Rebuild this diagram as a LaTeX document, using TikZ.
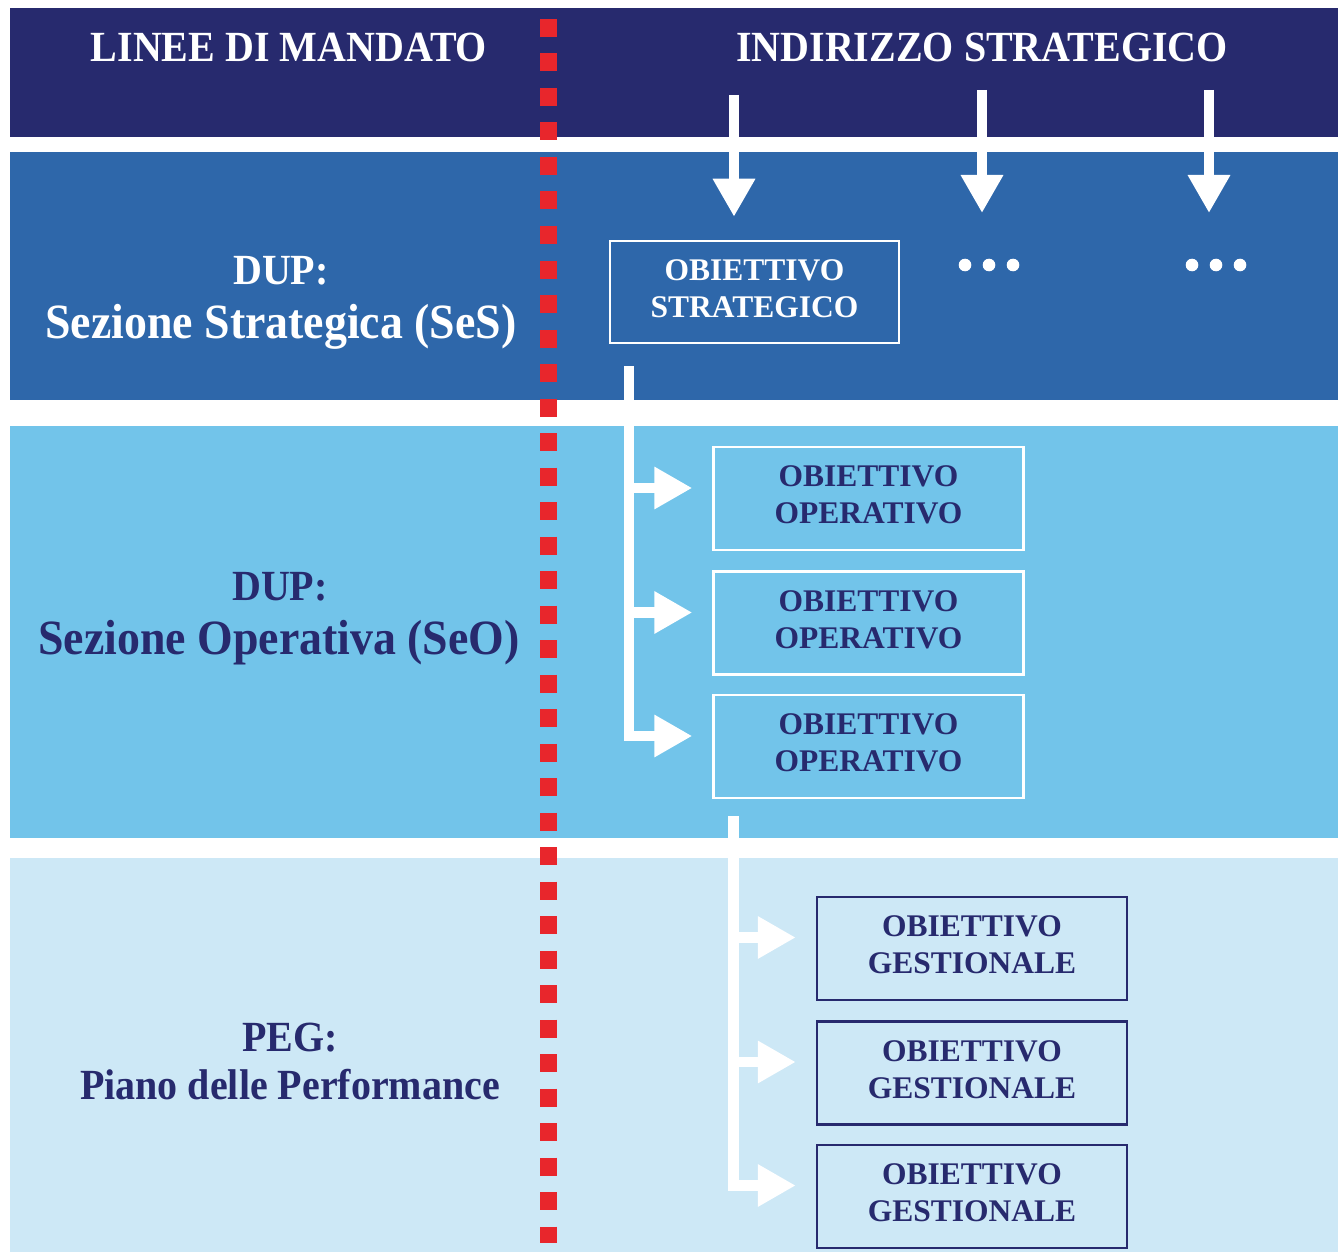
\documentclass[tikz,border=0pt]{standalone}
\usepackage{fontspec}
\setmainfont{Liberation Serif}
\newfontfamily\cond{Liberation Serif}[FakeStretch=0.93]
\usetikzlibrary{arrows.meta}
\definecolor{navy}{RGB}{39,42,110}
\definecolor{bandA}{RGB}{46,103,170}
\definecolor{bandB}{RGB}{114,196,234}
\definecolor{bandC}{RGB}{205,232,246}
\definecolor{dred}{RGB}{232,38,44}
\begin{document}
\begin{tikzpicture}[x=1pt,y=-1pt,
  lbl/.style={font=\cond\bfseries\fontsize{43}{50}\selectfont, anchor=base, inner sep=0pt},
  big/.style={font=\cond\bfseries\fontsize{49.3}{56}\selectfont, anchor=base, inner sep=0pt},
  boxbase/.style={line width=2.5pt, minimum width=310pt, minimum height=103pt, align=center, inner sep=0pt, text depth=7pt, font=\bfseries\fontsize{31.5}{37}\selectfont},
  boxw/.style={boxbase, draw=white, text=navy},
  boxn/.style={boxbase, draw=navy, text=navy},
  flow/.style={draw=white, line width=10.5pt},
  tip/.style={-{Triangle[width=40pt,length=38pt]}},
  redline/.style={draw=dred, line width=17pt, dash pattern=on 18pt off 16.5pt}
]
\useasboundingbox (0,0) rectangle (1338,1252);
\fill[white] (0,0) rectangle (1338,1252);
% bands
\fill[navy]  (10,8)   rectangle (1338,137);
\fill[bandA] (10,152) rectangle (1338,400);
\fill[bandB] (10,426) rectangle (1338,838);
\fill[bandC] (10,858) rectangle (1338,1252);
% red dashed separator
\draw[redline] (548,19) -- (548,1243);
% labels
\node[lbl, text=white] (hL) at (289,62) {LINEE DI MANDATO};
\node[lbl, text=white] (hR) at (982,62) {INDIRIZZO STRATEGICO};
\node[lbl, text=white] (dup1) at (281,284) {DUP:};
\node[big, text=white] (ses) at (281,338) {Sezione Strategica (SeS)};
\node[lbl, text=navy] (dup2) at (280,600) {DUP:};
\node[big, text=navy] (seo) at (279,654) {Sezione Operativa (SeO)};
\node[lbl, text=navy] (peg) at (290,1051) {PEG:};
\node[lbl, text=navy] (pdp) at (290,1099) {Piano delle Performance};
% boxes
\node[boxbase, draw=white, text=white, minimum width=289pt, minimum height=102pt] (os) at (754.5,292) {OBIETTIVO\\STRATEGICO};
\node[boxw] (o1) at (868.5,498.5) {OBIETTIVO\\OPERATIVO};
\node[boxw] (o2) at (868.5,623) {OBIETTIVO\\OPERATIVO};
\node[boxw] (o3) at (868.5,746.5) {OBIETTIVO\\OPERATIVO};
\node[boxn] (g1) at (972,948.5) {OBIETTIVO\\GESTIONALE};
\node[boxn] (g2) at (972,1073) {OBIETTIVO\\GESTIONALE};
\node[boxn] (g3) at (972,1196.5) {OBIETTIVO\\GESTIONALE};
% dots
\coordinate (d1) at (989,265);
\coordinate (d2) at (1216,265);
\fill[white] (d1) ++(-24,0) circle[radius=6.3pt] ++(24,0) circle[radius=6.3pt] ++(24,0) circle[radius=6.3pt];
\fill[white] (d2) ++(-24,0) circle[radius=6.3pt] ++(24,0) circle[radius=6.3pt] ++(24,0) circle[radius=6.3pt];
% down arrows
\coordinate (a1) at (734,95);
\coordinate (a2) at (982,90);
\coordinate (a3) at (1209,90);
\draw[flow, tip, shorten >=23pt] (a1) -- (a1 |- os.north);
\draw[flow, tip, shorten >=52pt] (a2) -- (a2 |- d1);
\draw[flow, tip, shorten >=52pt] (a3) -- (a3 |- d2);
% branch to operative objectives
\coordinate (b1) at ([xshift=20pt,yshift=-22pt]os.south west);
\coordinate (t1) at ([yshift=10.5pt]o1.west);
\coordinate (t2) at ([yshift=10.5pt]o2.west);
\coordinate (t3) at ([yshift=10.5pt]o3.west);
\draw[flow, tip, shorten >=20pt] (b1) |- (t3);
\draw[flow, tip, shorten >=20pt] (b1 |- t1) -- (t1);
\draw[flow, tip, shorten >=20pt] (b1 |- t2) -- (t2);
% branch to management objectives
\coordinate (b2) at ([xshift=21pt,yshift=-17pt]o3.south west);
\coordinate (u1) at ([yshift=11pt]g1.west);
\coordinate (u2) at ([yshift=11pt]g2.west);
\coordinate (u3) at ([yshift=11pt]g3.west);
\draw[flow, tip, shorten >=20pt] (b2) |- (u3);
\draw[flow, tip, shorten >=20pt] (b2 |- u1) -- (u1);
\draw[flow, tip, shorten >=20pt] (b2 |- u2) -- (u2);
\end{tikzpicture}
\end{document}
